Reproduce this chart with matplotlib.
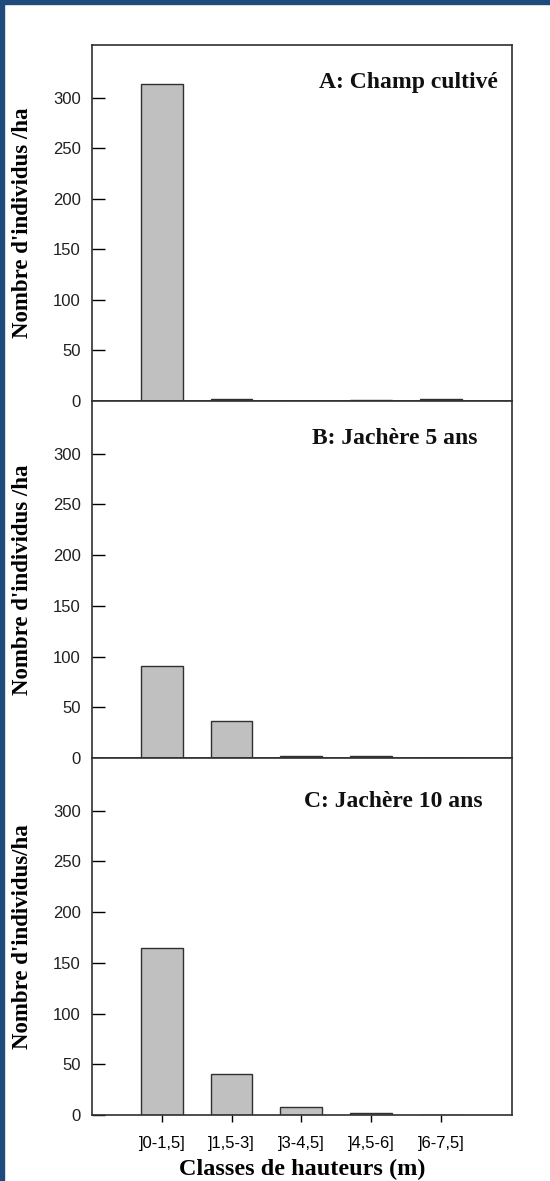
import numpy as np
import matplotlib
matplotlib.use('Agg')
import matplotlib.pyplot as plt
from matplotlib.patches import Rectangle

classes = [']0-1,5]', ']1,5-3]', ']3-4,5]', ']4,5-6]', ']6-7,5]']
champ = [313, 2, 0, 0.5, 1.5]
jachere5 = [91, 36, 2, 1.5, 0]
jachere10 = [165, 40, 8, 2, 0]

titles = ['A: Champ cultivé', 'B: Jachère 5 ans', 'C: Jachère 10 ans']
ylabels = ["Nombre d'individus /ha", "Nombre d'individus /ha", "Nombre d'individus/ha"]
series = [champ, jachere5, jachere10]

W, H = 550, 1181
fig = plt.figure(figsize=(W / 100, H / 100), dpi=100)
fig.patch.set_facecolor('white')

# blue frame on top and left
frame = '#1F4A7E'
fig.patches.append(Rectangle((0, 1 - 4 / H), 1, 4 / H, transform=fig.transFigure,
                             color=frame, zorder=0))
fig.patches.append(Rectangle((0, 0), 4 / W, 1, transform=fig.transFigure,
                             color=frame, zorder=0))

left, right = 92 / W, 512 / W
# (top, bottom) of each panel in pixels
panels = [(45, 401), (401, 758), (758, 1115)]
title_pos = [(0.966, 0.896), (0.917, 0.896), (0.93, 0.877)]

serif = 'Liberation Serif'
sans = 'Liberation Sans'
ind = np.arange(len(classes))

for i, (top, bot) in enumerate(panels):
    ax = fig.add_axes([left, (H - bot) / H, right - left, (bot - top) / H])
    ax.bar(ind, series[i], 0.6, color='#C0C0C0', edgecolor='#303030', linewidth=1.0)
    ax.set_xlim(-1, 5.02)
    ax.set_ylim(0, 352)
    ax.set_yticks(np.arange(0, 301, 50))
    ax.tick_params(axis='y', direction='in', length=9.5, width=1.0, pad=8,
                   labelsize=12, labelcolor='#202020')
    for lab in ax.get_yticklabels():
        lab.set_family(sans)
    for sp in ax.spines.values():
        sp.set_linewidth(1.2)
        sp.set_color('#303030')
    ax.set_ylabel(ylabels[i], family=serif, fontweight='bold', fontsize=16.5)
    ax.yaxis.set_label_coords(-0.14, 0.5)
    tx, ty = title_pos[i]
    ax.text(tx, ty, titles[i], transform=ax.transAxes, ha='right', va='center',
            family=serif, fontweight='bold', fontsize=17, color='#101010')
    if i < 2:
        ax.set_xticks([])
    else:
        ax.set_xticks(ind)
        ax.set_xticklabels(classes, family=sans, fontsize=12)
        ax.tick_params(axis='x', direction='out', length=5, width=1.0, pad=10)
        ax.set_xlabel('Classes de hauteurs (m)', family=serif, fontweight='bold',
                      fontsize=17.5, labelpad=6)

fig.savefig('out.png', dpi=100)
